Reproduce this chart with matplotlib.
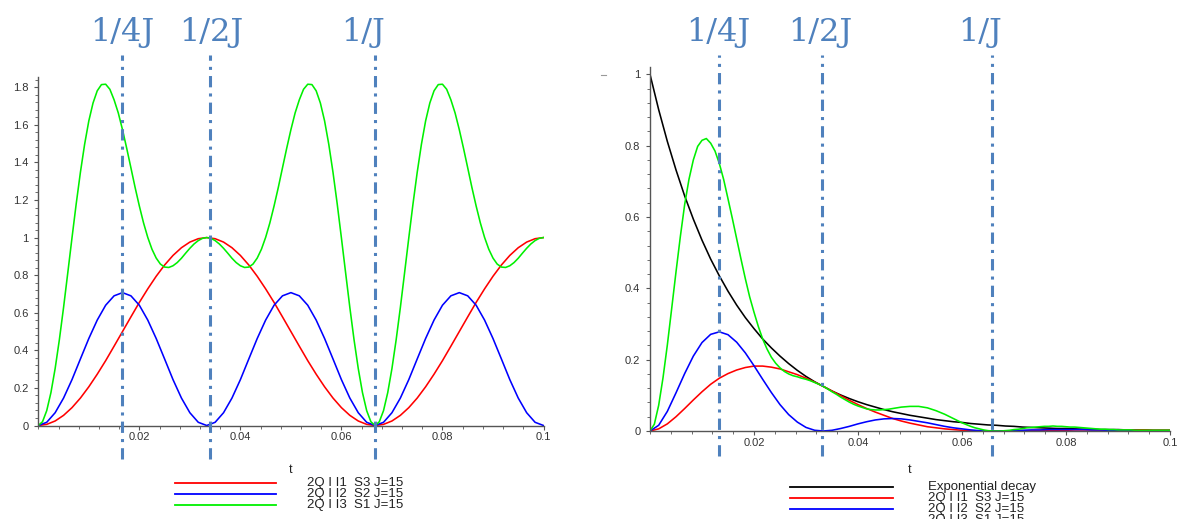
import numpy as np
import matplotlib.pyplot as plt
from matplotlib.lines import Line2D
from matplotlib.ticker import MultipleLocator

# sample times (s): coarse grid for the smooth curves, fine grid for the green ones
t = np.linspace(0, 0.1, 61)
t_fine = np.linspace(0, 0.1, 121)

# left panel: transfer functions, J=15
red_left = [0.000, 0.006, 0.024, 0.054, 0.095, 0.146, 0.206, 0.273, 0.345, 0.422,
            0.500, 0.578, 0.655, 0.727, 0.794, 0.854, 0.905, 0.946, 0.976, 0.994,
            1.000, 0.994, 0.976, 0.946, 0.905, 0.854, 0.794, 0.727, 0.655, 0.578,
            0.500, 0.422, 0.345, 0.273, 0.206, 0.146, 0.095, 0.054, 0.024, 0.006,
            0.000, 0.006, 0.024, 0.054, 0.095, 0.146, 0.206, 0.273, 0.345, 0.422,
            0.500, 0.578, 0.655, 0.727, 0.794, 0.854, 0.905, 0.946, 0.976, 0.994,
            1.000]
blue_left = [0.000, 0.017, 0.068, 0.146, 0.244, 0.354, 0.463, 0.561, 0.640, 0.690,
             0.707, 0.690, 0.640, 0.561, 0.463, 0.354, 0.244, 0.146, 0.068, 0.017,
             0.000, 0.017, 0.068, 0.146, 0.244, 0.354, 0.463, 0.561, 0.640, 0.690,
             0.707, 0.690, 0.640, 0.561, 0.463, 0.354, 0.244, 0.146, 0.068, 0.017,
             0.000, 0.017, 0.068, 0.146, 0.244, 0.354, 0.463, 0.561, 0.640, 0.690,
             0.707, 0.690, 0.640, 0.561, 0.463, 0.354, 0.244, 0.146, 0.068, 0.017,
             0.000]
green_left = [0.000, 0.020, 0.079, 0.175, 0.303, 0.456, 0.628, 0.812, 0.998, 1.179,
              1.347, 1.496, 1.621, 1.716, 1.781, 1.814, 1.816, 1.789, 1.733, 1.663,
              1.574, 1.475, 1.371, 1.266, 1.168, 1.078, 1.001, 0.938, 0.891, 0.859,
              0.843, 0.841, 0.850, 0.867, 0.890, 0.917, 0.943, 0.966, 0.984, 0.996,
              1.000, 0.996, 0.984, 0.966, 0.943, 0.917, 0.890, 0.867, 0.850, 0.841,
              0.843, 0.859, 0.891, 0.938, 1.001, 1.078, 1.168, 1.266, 1.371, 1.475,
              1.574, 1.663, 1.733, 1.789, 1.816, 1.814, 1.781, 1.716, 1.621, 1.496,
              1.347, 1.179, 0.998, 0.812, 0.628, 0.456, 0.303, 0.175, 0.079, 0.020,
              0.000, 0.020, 0.079, 0.175, 0.303, 0.456, 0.628, 0.812, 0.998, 1.179,
              1.347, 1.496, 1.621, 1.716, 1.781, 1.814, 1.816, 1.789, 1.733, 1.663,
              1.574, 1.475, 1.371, 1.266, 1.168, 1.078, 1.001, 0.938, 0.891, 0.859,
              0.843, 0.841, 0.850, 0.867, 0.890, 0.917, 0.943, 0.966, 0.984, 0.996,
              1.000]

# right panel: same transfers with relaxation
black_right = [1.000, 0.901, 0.812, 0.732, 0.659, 0.594, 0.535, 0.482, 0.435, 0.392,
               0.353, 0.318, 0.287, 0.258, 0.233, 0.210, 0.189, 0.170, 0.153, 0.138,
               0.125, 0.112, 0.101, 0.091, 0.082, 0.074, 0.067, 0.060, 0.054, 0.049,
               0.044, 0.040, 0.036, 0.032, 0.029, 0.026, 0.024, 0.021, 0.019, 0.017,
               0.016, 0.014, 0.013, 0.011, 0.010, 0.009, 0.008, 0.007, 0.007, 0.006,
               0.005, 0.005, 0.004, 0.004, 0.004, 0.003, 0.003, 0.003, 0.002, 0.002,
               0.002]
red_right = [0.000, 0.006, 0.020, 0.040, 0.063, 0.087, 0.110, 0.131, 0.148, 0.161,
             0.171, 0.178, 0.182, 0.182, 0.179, 0.174, 0.166, 0.158, 0.148, 0.137,
             0.125, 0.112, 0.099, 0.086, 0.074, 0.063, 0.053, 0.044, 0.035, 0.028,
             0.022, 0.017, 0.012, 0.009, 0.006, 0.004, 0.002, 0.001, 0.000, 0.000,
             0.000, 0.000, 0.000, 0.001, 0.001, 0.001, 0.002, 0.002, 0.002, 0.003,
             0.003, 0.003, 0.003, 0.003, 0.003, 0.003, 0.003, 0.003, 0.002, 0.002,
             0.002]
blue_right = [0.000, 0.016, 0.055, 0.107, 0.161, 0.210, 0.248, 0.271, 0.278, 0.270,
              0.249, 0.219, 0.183, 0.145, 0.108, 0.074, 0.046, 0.025, 0.010, 0.002,
              0.000, 0.002, 0.007, 0.013, 0.020, 0.026, 0.031, 0.034, 0.035, 0.034,
              0.031, 0.027, 0.023, 0.018, 0.013, 0.009, 0.006, 0.003, 0.001, 0.000,
              0.000, 0.000, 0.001, 0.002, 0.003, 0.003, 0.004, 0.004, 0.004, 0.004,
              0.004, 0.003, 0.003, 0.002, 0.002, 0.001, 0.001, 0.000, 0.000, 0.000,
              0.000]
green_right = [0.000, 0.019, 0.072, 0.149, 0.241, 0.343, 0.446, 0.545, 0.635, 0.706,
               0.760, 0.798, 0.815, 0.820, 0.807, 0.785, 0.750, 0.705, 0.651, 0.596,
               0.539, 0.482, 0.427, 0.376, 0.333, 0.293, 0.258, 0.230, 0.207, 0.190,
               0.177, 0.167, 0.160, 0.155, 0.152, 0.148, 0.145, 0.141, 0.136, 0.131,
               0.125, 0.118, 0.110, 0.103, 0.095, 0.088, 0.081, 0.075, 0.070, 0.066,
               0.062, 0.060, 0.059, 0.059, 0.060, 0.061, 0.063, 0.065, 0.067, 0.068,
               0.069, 0.069, 0.069, 0.067, 0.065, 0.061, 0.057, 0.052, 0.047, 0.041,
               0.035, 0.029, 0.023, 0.018, 0.013, 0.009, 0.006, 0.003, 0.001, 0.000,
               0.000, 0.000, 0.001, 0.002, 0.004, 0.005, 0.007, 0.009, 0.010, 0.011,
               0.012, 0.013, 0.013, 0.014, 0.013, 0.013, 0.012, 0.011, 0.011, 0.010,
               0.009, 0.008, 0.007, 0.006, 0.005, 0.005, 0.004, 0.004, 0.003, 0.003,
               0.003, 0.003, 0.002, 0.002, 0.002, 0.002, 0.002, 0.002, 0.002, 0.002,
               0.002]

labels_left = ["2Q I I1  S3 J=15", "2Q I I2  S2 J=15", "2Q I I3  S1 J=15"]
labels_right = ["Exponential decay"] + labels_left

# marker lines (1/4J, 1/2J, 1/J) as drawn on each panel
marks = ["1/4J", "1/2J", "1/J"]
marks_left = [0.0166, 0.0339, 0.0667]
marks_right = [0.0133, 0.0331, 0.0657]

xticks = [0.02, 0.04, 0.06, 0.08, 0.1]
xticklabels = ["0.02", "0.04", "0.06", "0.08", "0.1"]
yticks_left = [0, 0.2, 0.4, 0.6, 0.8, 1.0, 1.2, 1.4, 1.6, 1.8]
yticklabels_left = ["0", "0.2", "0.4", "0.6", "0.8", "1", "1.2", "1.4", "1.6", "1.8"]
yticks_right = [0, 0.2, 0.4, 0.6, 0.8, 1.0]
yticklabels_right = ["0", "0.2", "0.4", "0.6", "0.8", "1"]

W, H = 1179, 519
MARK_COLOR = "#4F81BD"
AXIS_COLOR = "#555555"
RED, BLUE, GREEN, BLACK = "#ff0000", "#0000ff", "#00f000", "#000000"


def px(x, y):
    """pixel position -> figure fraction"""
    return x / W, 1 - y / H


def style_axes(ax, ymax, yticks, yticklabels):
    ax.set_xlim(0, 0.1)
    ax.set_ylim(0, ymax)
    for side in ["top", "right"]:
        ax.spines[side].set_visible(False)
    for side in ["left", "bottom"]:
        ax.spines[side].set_color(AXIS_COLOR)
        ax.spines[side].set_linewidth(1.0)
    ax.set_xticks(xticks)
    ax.set_xticklabels(xticklabels)
    ax.set_yticks(yticks)
    ax.set_yticklabels(yticklabels)
    ax.xaxis.set_minor_locator(MultipleLocator(0.004))
    ax.yaxis.set_minor_locator(MultipleLocator(0.04))
    ax.tick_params(which="major", direction="out", length=3, width=0.8,
                   color=AXIS_COLOR, labelsize=8, labelcolor="#333333")
    ax.tick_params(which="minor", direction="out", length=2, width=0.6,
                   color=AXIS_COLOR)
    ax.tick_params(axis="x", pad=2)
    ax.tick_params(axis="y", pad=4)
    for lab in ax.get_xticklabels() + ax.get_yticklabels():
        lab.set_family("Liberation Sans")
    ax.patch.set_alpha(0)


def draw_marks(ax, xs, ymin, ymax):
    for x in xs:
        ax.axvline(x, ymin=ymin, ymax=ymax, color=MARK_COLOR, lw=2.2,
                   ls=(0, (3.7, 2, 1, 2)), clip_on=False, zorder=3)


def draw_legend(x0, x1, xtext, ys, colors, labels):
    for y, c, lab in zip(ys, colors, labels):
        fx0, fy = px(x0, y)
        fx1, _ = px(x1, y)
        fig.add_artist(Line2D([fx0, fx1], [fy, fy], color=c, lw=1.3))
        fig.text(px(xtext, y)[0], fy, lab, ha="left", va="center", fontsize=9.5,
                 family="Liberation Sans", color="#222222")


fig = plt.figure(figsize=(W / 100, H / 100), dpi=100)

# left panel
axL = fig.add_axes([38.3 / W, 1 - 425.5 / H, 505.2 / W, 348.8 / H])
axL.plot(t, red_left, color=RED, lw=1.15)
axL.plot(t, blue_left, color=BLUE, lw=1.15)
axL.plot(t_fine, green_left, color=GREEN, lw=1.15)
style_axes(axL, 1.856, yticks_left, yticklabels_left)
draw_marks(axL, marks_left, -0.096, 1.062)
axL.text(0.5, -0.128, "t", transform=axL.transAxes, ha="center", va="center",
         fontsize=9, family="Liberation Sans", color="#222222")

# right panel
axR = fig.add_axes([650 / W, 1 - 431 / H, 520 / W, 363.8 / H])
axR.plot(t, black_right, color=BLACK, lw=1.15)
axR.plot(t, red_right, color=RED, lw=1.15)
axR.plot(t, blue_right, color=BLUE, lw=1.15)
axR.plot(t_fine, green_right, color=GREEN, lw=1.15)
style_axes(axR, 1.02, yticks_right, yticklabels_right)
draw_marks(axR, marks_right, -0.069, 1.034)
axR.text(0.5, -0.107, "t", transform=axR.transAxes, ha="center", va="center",
         fontsize=9, family="Liberation Sans", color="#222222")

# stray tick mark left of the right panel
fig.add_artist(Line2D([px(601, 0)[0], px(606, 0)[0]], [px(0, 75)[1]] * 2,
                      color="#999999", lw=0.8))

# big marker labels above the panels
for lab, x in zip(marks, [122, 211, 363]):
    fig.text(*px(x, 41), lab, ha="center", va="baseline", fontsize=23,
             family="DejaVu Serif", color=MARK_COLOR)
for lab, x in zip(marks, [718, 820, 980]):
    fig.text(*px(x, 41), lab, ha="center", va="baseline", fontsize=23,
             family="DejaVu Serif", color=MARK_COLOR)

# legends below the panels
draw_legend(175, 276, 307, [483, 494, 505], [RED, BLUE, GREEN], labels_left)
draw_legend(790, 893, 928, [487, 498, 509, 520], [BLACK, RED, BLUE, GREEN],
            labels_right)

fig.savefig("out.png", dpi=100)
